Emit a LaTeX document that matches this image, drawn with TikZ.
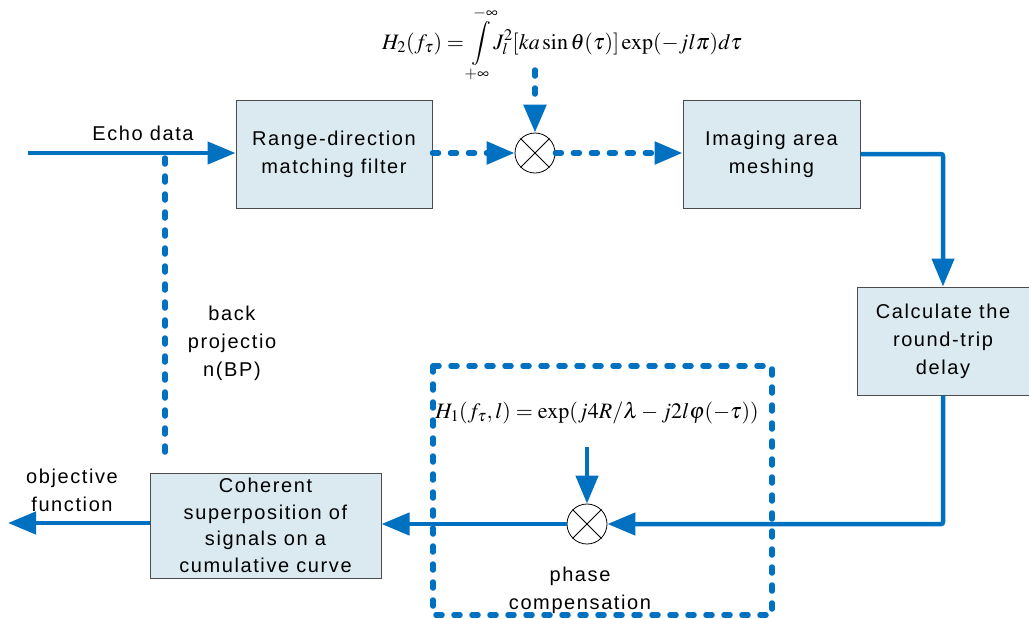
\documentclass[tikz,border=0pt]{standalone}
\usepackage{mathptmx}
\usepackage[no-math]{fontspec}
\setmainfont{Liberation Sans}[LetterSpace=8]
\usetikzlibrary{arrows.meta}
\definecolor{flowblue}{HTML}{0070C0}
\definecolor{boxfill}{HTML}{DBEAF1}
\begin{document}
\begin{tikzpicture}[x=1pt,y=-1pt,
		>={Triangle[length=28pt,width=22pt]},
		block/.style={draw=black!70, line width=1pt, fill=boxfill, align=center, inner sep=0pt, font=\fontsize{20}{28}\selectfont},
		mixer/.style={circle, draw, line width=0.8pt, fill=white, minimum size=40pt, inner sep=0pt},
		txt/.style={align=center, inner sep=0pt, font=\fontsize{20}{28}\selectfont},
		formula/.style={inner sep=0pt, font=\fontsize{22}{26}\selectfont},
		flow/.style={draw=flowblue, line width=4.5pt},
		dotflow/.style={draw=flowblue, line width=5.5pt, line cap=round, dash pattern=on 6pt off 12pt}
	]
		\useasboundingbox (0,0) rectangle (1029,619);
		% blocks
		\node[block, minimum width=196pt, minimum height=108pt] (range) at (334,154) {Range-direction\\matching filter};
		\node[block, minimum width=177pt, minimum height=108pt] (mesh) at (771.5,154) {Imaging area\\meshing};
		\node[block, minimum width=172pt, minimum height=108pt] (delay) at (943,341) {Calculate the\\round-trip\\delay};
		\node[block, minimum width=231pt, minimum height=105pt, font=\fontsize{20}{26.5}\selectfont] (cohere) at (265.5,525.5) {Coherent\\superposition of\\signals on a\\cumulative curve};
		% mixers
		\node[mixer] (mixA) at (535,153) {};
		\node[mixer] (mixB) at (587,524) {};
		\foreach \m in {mixA,mixB} {
			\draw[line width=0.8pt] (\m.north west) -- (\m.south east);
			\draw[line width=0.8pt] (\m.north east) -- (\m.south west);
		}
		% labels
		\node[txt] (echo) at (143,133) {Echo data};
		\node[txt] (objfun) at (72,490) {objective\\function};
		\node[txt] (bp) at (232,343) {back\\projectio\\n(BP)};
		\node[txt] (phase) at (580,590) {phase\\compensation};
		\node[formula] (htwo) at (562,44) {$\displaystyle H_2(f_\tau)=\int\limits_{+\infty}^{-\infty}\! J_l^2[ka\sin\theta(\tau)]\exp(-jl\pi)d\tau$};
		\node[formula] (hone) at (597,413) {$H_1(f_\tau,l)=\exp(j4R/\lambda-j2l\varphi(-\tau))$};
		% free ends
		\coordinate (echoin) at (28,153);
		\coordinate (out) at (8,523);
		\coordinate (htwoin) at (535,70);
		\coordinate (honein) at (587,447);
		\coordinate (bptop) at (165,158);
		\coordinate (bpbot) at (165,462);
		% connectors
		\draw[flow,->] (echoin) -- (echoin -| range.west);
		\draw[dotflow,->] (range.east |- mixA) -- (mixA.west);
		\draw[dotflow,->] (htwoin) -- (mixA.north);
		\draw[dotflow,->] (mixA.east) -- (mixA -| mesh.west);
		\draw[flow,->,rounded corners=2pt] (mesh.east) -| (delay.north);
		\draw[flow,->,rounded corners=2pt] (delay.south) |- (mixB.east);
		\draw[flow,->] (honein) -- (mixB.north);
		\draw[flow,->] (mixB.west) -- (mixB -| cohere.east);
		\draw[flow,->] (cohere.west |- out) -- (out);
		\draw[dotflow] (bptop) -- (bpbot);
		\draw[dotflow] (433,366) rectangle (772,615);
	\end{tikzpicture}
\end{document}
